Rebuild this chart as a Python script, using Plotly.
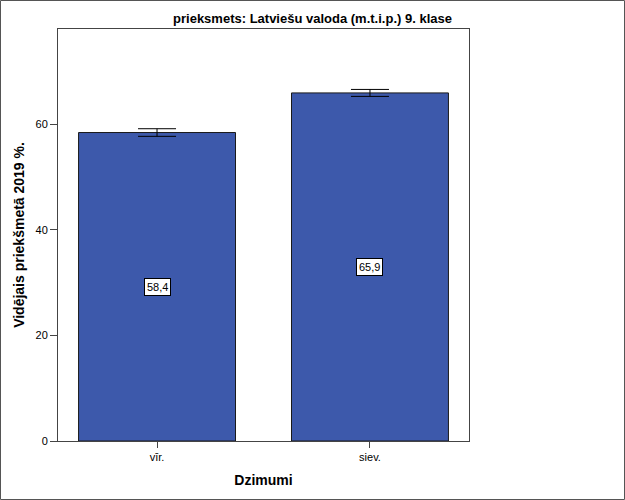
import plotly.graph_objects as go

categories = ["vīr.", "siev."]
values = [58.4, 65.9]
errors = [0.72, 0.66]
y_ticks = [0, 20, 40, 60]

W, H = 625, 500
ml, mr, mt, mb = 58, 156, 29, 59
pw = W - ml - mr
ph = H - mt - mb

font = "Liberation Sans, Arial, sans-serif"

fig = go.Figure()
fig.add_trace(go.Bar(
    x=categories, y=values, width=0.737,
    marker=dict(color="#3d59ab", line=dict(color="#1a1a1a", width=1)),
    error_y=dict(type="data", array=errors, visible=True, color="#000000", thickness=1, width=19),
    hoverinfo="skip",
))

annotations = []
for c, v in zip(categories, values):
    annotations.append(dict(
        x=c, y=v / 2, xref="x", yref="y",
        text=f"{v:.1f}".replace(".", ","), showarrow=False,
        bgcolor="white", bordercolor="#000000", borderwidth=1, borderpad=2,
        font=dict(family=font, size=11, color="black"),
    ))

fig.update_layout(
    width=W, height=H,
    margin=dict(l=ml, r=mr, t=mt, b=mb, pad=0),
    paper_bgcolor="white", plot_bgcolor="white",
    showlegend=False,
    title=dict(text="<b>prieksmets: Latviešu valoda (m.t.i.p.) 9. klase</b>",
               x=0.5, xref="container", xanchor="center", y=1 - 18 / H, yanchor="middle",
               font=dict(family=font, size=13, color="black")),
    xaxis=dict(
        range=[-0.465, 1.465], showline=True, mirror=True, linecolor="#444444", linewidth=1,
        ticks="outside", ticklen=6, tickcolor="#444444", showgrid=False,
        tickfont=dict(family=font, size=11, color="black"),
        title=dict(text="<b>Dzimumi</b>", font=dict(family=font, size=14, color="black"), standoff=12),
    ),
    yaxis=dict(
        range=[0, 78], tickvals=y_ticks, showline=True, mirror=True, linecolor="#444444", linewidth=1,
        ticks="outside", ticklen=7, tickcolor="#444444", showgrid=False, zeroline=False,
        tickfont=dict(family=font, size=11, color="black"),
        title=dict(text="<b>Vidējais priekšmetā 2019 %.</b>", font=dict(family=font, size=14, color="black"), standoff=7),
    ),
    annotations=annotations,
    shapes=[dict(
        type="rect", xref="paper", yref="paper",
        x0=(0.5 - ml) / pw, x1=(W - 0.5 - ml) / pw,
        y0=-(mb - 0.5) / ph, y1=1 + (mt - 0.5) / ph,
        line=dict(color="#555555", width=1), fillcolor="rgba(0,0,0,0)", layer="above",
    )],
)

fig.write_html("out.html", config={"displayModeBar": False},
               post_script="document.body.style.margin='0';")
